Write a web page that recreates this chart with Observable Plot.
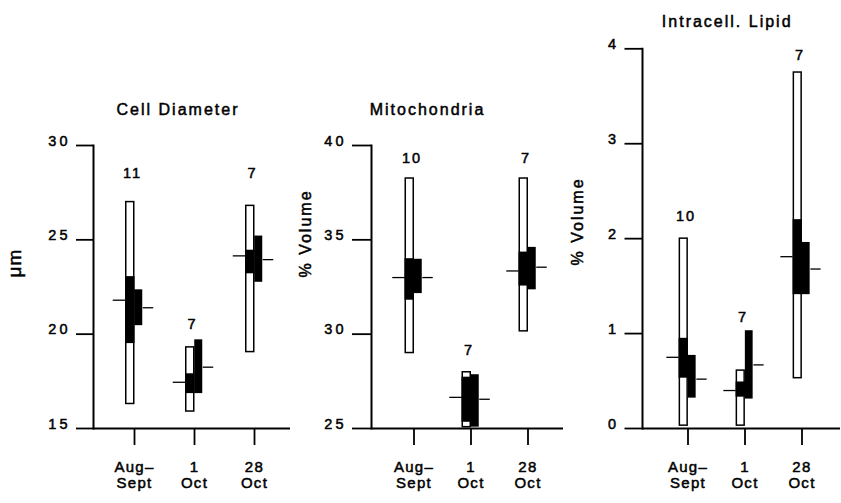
<!DOCTYPE html>
<html><head><meta charset="utf-8">
<script src="https://cdn.jsdelivr.net/npm/d3@7"></script>
<script src="https://cdn.jsdelivr.net/npm/@observablehq/plot@0.6"></script>
<style>
html,body{margin:0;padding:0;background:#fff;overflow:hidden}
#chart{position:relative;width:841px;height:503px}
#chart svg{position:absolute;left:0;top:0;background:transparent;overflow:visible;font-family:"Liberation Sans",Arial,Helvetica,sans-serif}
#chart svg text{letter-spacing:2px;stroke:#000;stroke-width:0.5px}
#chart svg g[aria-label="y-axis tick label"] text{letter-spacing:3px}
#chart svg g[aria-label="x-axis tick label"] text{letter-spacing:1.3px}
#chart svg text[aria-label="ylabel-um"]{letter-spacing:1px;font-size:19px}
</style></head>
<body><div id="chart"></div>
<script>
const cats = ["Aug–\nSept", "1\nOct", "28\nOct"];

// Cell Diameter (µm)
const cellTicks = [15, 20, 25, 30];
const cellRangeLo = [16.3, 15.9, 19.05];
const cellRangeHi = [27.0, 19.3, 26.8];
const cellSdLoA = [19.5, 16.85, 23.2];
const cellSdHiA = [23.05, 17.9, 24.45];
const cellMeanA = [21.8, 17.45, 24.15];
const cellSdLoB = [20.45, 16.85, 22.75];
const cellSdHiB = [22.35, 19.7, 25.2];
const cellMeanB = [21.4, 18.25, 23.95];
const cellN = [11, 7, 7];
const cellNy = [28.5, 20.5, 28.5];

// Mitochondria (% Volume)
const mitoTicks = [25, 30, 35, 40];
const mitoRangeLo = [29.0, 25.07, 30.15];
const mitoRangeHi = [38.25, 27.98, 38.25];
const mitoSdLoA = [31.8, 25.33, 32.55];
const mitoSdHiA = [34.0, 27.72, 34.35];
const mitoMeanA = [33.0, 26.65, 33.35];
const mitoSdLoB = [32.15, 25.07, 32.35];
const mitoSdHiB = [33.97, 27.85, 34.6];
const mitoMeanB = [33.0, 26.55, 33.55];
const mitoN = [10, 7, 7];
const mitoNy = [39.3, 29.13, 39.3];

// Intracell. Lipid (% Volume)
const lipTicks = [0, 1, 2, 3, 4];
const lipRangeLo = [0.03, 0.03, 0.53];
const lipRangeHi = [2.0, 0.61, 3.75];
const lipSdLoA = [0.53, 0.33, 1.41];
const lipSdHiA = [0.95, 0.49, 2.2];
const lipMeanA = [0.75, 0.40, 1.81];
const lipSdLoB = [0.32, 0.31, 1.41];
const lipSdHiB = [0.77, 1.03, 1.96];
const lipMeanB = [0.52, 0.67, 1.68];
const lipN = [10, 7, 7];
const lipNy = [2.23, 1.175, 3.93];

function panel(o) {
  const rows = cats.map((c, i) => ({
    c, lo: o.lo[i], hi: o.hi[i], sdLoA: o.sdLoA[i], sdHiA: o.sdHiA[i], meanA: o.meanA[i],
    sdLoB: o.sdLoB[i], sdHiB: o.sdHiB[i], meanB: o.meanB[i], n: String(o.n[i]), nY: o.nY[i]
  }));
  const bw = (o.xRange[1] - o.xRange[0]) / cats.length;
  const W = 8.5, ML = 13, MR = 11;
  return Plot.plot({
    width: 841, height: 503,
    marginLeft: o.marginLeft, marginRight: o.marginRight, marginTop: o.marginTop, marginBottom: 75,
    x: {type: "band", domain: cats, range: o.xRange, padding: 0},
    y: {domain: o.domain},
    marks: [
      Plot.barY(rows, {x: "c", y1: "lo", y2: "hi", fill: "white", stroke: "black", strokeWidth: 1.5, insetLeft: bw / 2 - W, insetRight: bw / 2}),
      Plot.barY(rows, {x: "c", y1: "sdLoA", y2: "sdHiA", fill: "black", insetLeft: bw / 2 - W - 0.75, insetRight: bw / 2 - 0.75}),
      Plot.barY(rows, {x: "c", y1: "sdLoB", y2: "sdHiB", fill: "black", insetLeft: bw / 2, insetRight: bw / 2 - W}),
      Plot.tickY(rows, {x: "c", y: "meanA", insetLeft: bw / 2 - W - ML, insetRight: bw / 2 + W, strokeWidth: 1.3}),
      Plot.tickY(rows, {x: "c", y: "meanB", insetLeft: bw / 2 + W, insetRight: bw / 2 - W - MR, strokeWidth: 1.3}),
      Plot.text(rows, {x: "c", y: "nY", text: "n", dx: -2, fontSize: 14.5}),
      Plot.axisY(o.ticks, {tickSize: o.tickSize, tickPadding: 6, fontSize: 14.5, strokeWidth: 1.8, lineAnchor: "bottom", tickFormat: d => String(d), label: null}),
      Plot.axisX({tickSize: 17, tickPadding: 16, fontSize: 15, strokeWidth: 1.8, lineHeight: 1.02, label: null}),
      Plot.ruleY([o.domain[0]], {strokeWidth: 2}),
      Plot.frame({anchor: "left", strokeWidth: 2}),
      Plot.text([o.title], {text: d => d, frameAnchor: "top", dx: o.titleDx, dy: o.titleDy, fontSize: 16}),
      Plot.text([o.ylabel], {text: d => d, ariaLabel: () => o.ylabelId, frameAnchor: "left", rotate: -90, dx: o.ylabelDx, dy: o.ylabelDy, fontSize: 16})
    ]
  });
}

const chart = document.getElementById("chart");
chart.append(panel({
  title: "Cell Diameter", ylabel: "μm", ylabelId: "ylabel-um", domain: [15, 30], ticks: cellTicks,
  marginLeft: 93, marginRight: 551, marginTop: 145, xRange: [103.25, 284.75], tickSize: 17,
  lo: cellRangeLo, hi: cellRangeHi, sdLoA: cellSdLoA, sdHiA: cellSdHiA, meanA: cellMeanA,
  sdLoB: cellSdLoB, sdHiB: cellSdHiB, meanB: cellMeanB, n: cellN, nY: cellNy,
  titleDx: -14, titleDy: -42, ylabelDx: -79, ylabelDy: -9.5
}));
chart.append(panel({
  title: "Mitochondria", ylabel: "% Volume", ylabelId: "ylabel", domain: [25, 40], ticks: mitoTicks,
  marginLeft: 371, marginRight: 278, marginTop: 145, xRange: [383.85, 556.35], tickSize: 19,
  lo: mitoRangeLo, hi: mitoRangeHi, sdLoA: mitoSdLoA, sdHiA: mitoSdHiA, meanA: mitoMeanA,
  sdLoB: mitoSdLoB, sdHiB: mitoSdHiB, meanB: mitoMeanB, n: mitoN, nY: mitoNy,
  titleDx: -40, titleDy: -42, ylabelDx: -66, ylabelDy: -9.5
}));
chart.append(panel({
  title: "Intracell. Lipid", ylabel: "% Volume", ylabelId: "ylabel", domain: [0, 4], ticks: lipTicks,
  marginLeft: 642, marginRight: 1, marginTop: 48.3, xRange: [657.5, 830.6], tickSize: 17.5,
  lo: lipRangeLo, hi: lipRangeHi, sdLoA: lipSdLoA, sdHiA: lipSdHiA, meanA: lipMeanA,
  sdLoB: lipSdLoB, sdHiB: lipSdHiB, meanB: lipMeanB, n: lipN, nY: lipNy,
  titleDx: -14.3, titleDy: -33, ylabelDx: -65, ylabelDy: 26.8
}));
</script></body></html>
